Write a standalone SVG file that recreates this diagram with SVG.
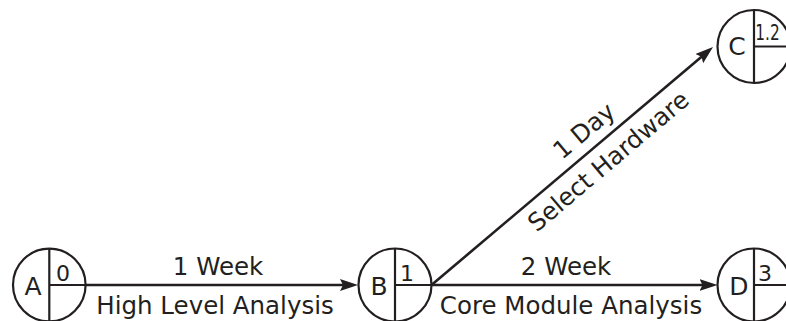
<svg xmlns="http://www.w3.org/2000/svg" width="786" height="321" viewBox="0 0 786 321">
<style>
.ring{fill:none;stroke:#231f20;stroke-width:2.2}
.div{stroke:#231f20;stroke-width:2.2}
.edge{stroke:#231f20;stroke-width:2.6;fill:none}
text{font-family:"DejaVu Sans","Liberation Sans",sans-serif;fill:#231f20}
.nm{font-size:25px;text-anchor:middle}
.num{font-size:22px;text-anchor:middle}
.lbl{font-size:24.5px;text-anchor:middle}
</style>
<defs>
<marker id="arr" markerUnits="userSpaceOnUse" markerWidth="20" markerHeight="14" refX="10" refY="6" orient="auto" viewBox="0 0 20 14">
<path d="M0,0 L18,6 L0,12 L3,6 z" fill="#231f20"/>
</marker>
</defs>
<g id="connectors">
<line class="edge" x1="85.5" y1="285" x2="350" y2="285" marker-end="url(#arr)"/>
<line class="edge" x1="431.5" y1="285" x2="709.5" y2="285" marker-end="url(#arr)"/>
<line class="edge" x1="431.5" y1="285" x2="706.9" y2="52.2" marker-end="url(#arr)"/>
<text class="lbl" x="218" y="275">1 Week</text>
<text class="lbl" x="215" y="314">High Level Analysis</text>
<text class="lbl" x="566" y="275">2 Week</text>
<text class="lbl" x="571" y="314">Core Module Analysis</text>
<g transform="translate(431.5,285) rotate(-40.2)">
<text class="lbl" x="216" y="-11">1 Day</text>
<text class="lbl" x="215" y="28">Select Hardware</text>
</g>
</g>
<g id="node-A">
<circle class="ring" cx="49.3" cy="285" r="36.3"/>
<line class="div" x1="49.3" y1="248.7" x2="49.3" y2="321.3"/>
<line class="div" x1="49.3" y1="285" x2="85.6" y2="285"/>
<text class="nm" x="33" y="295">A</text>
<text class="num" x="63" y="281">0</text>
</g>
<g id="node-B">
<circle class="ring" cx="395" cy="285" r="36.5"/>
<line class="div" x1="395" y1="248.5" x2="395" y2="321.5"/>
<line class="div" x1="395" y1="285" x2="431.5" y2="285"/>
<text class="nm" x="379" y="295">B</text>
<text class="num" x="407" y="281">1</text>
</g>
<g id="node-C">
<circle class="ring" cx="754" cy="46.5" r="36.5"/>
<line class="div" x1="754" y1="10" x2="754" y2="83"/>
<line class="div" x1="754" y1="46.5" x2="790.5" y2="46.5"/>
<text class="nm" x="737" y="55">C</text>
<text class="num" transform="translate(767.5,40) scale(0.7,1)" x="0" y="0">1.2</text>
</g>
<g id="node-D">
<circle class="ring" cx="754" cy="285" r="36.5"/>
<line class="div" x1="754" y1="248.5" x2="754" y2="321.5"/>
<line class="div" x1="754" y1="285" x2="790.5" y2="285"/>
<text class="nm" x="739" y="295">D</text>
<text class="num" x="765" y="281">3</text>
</g>
</svg>
